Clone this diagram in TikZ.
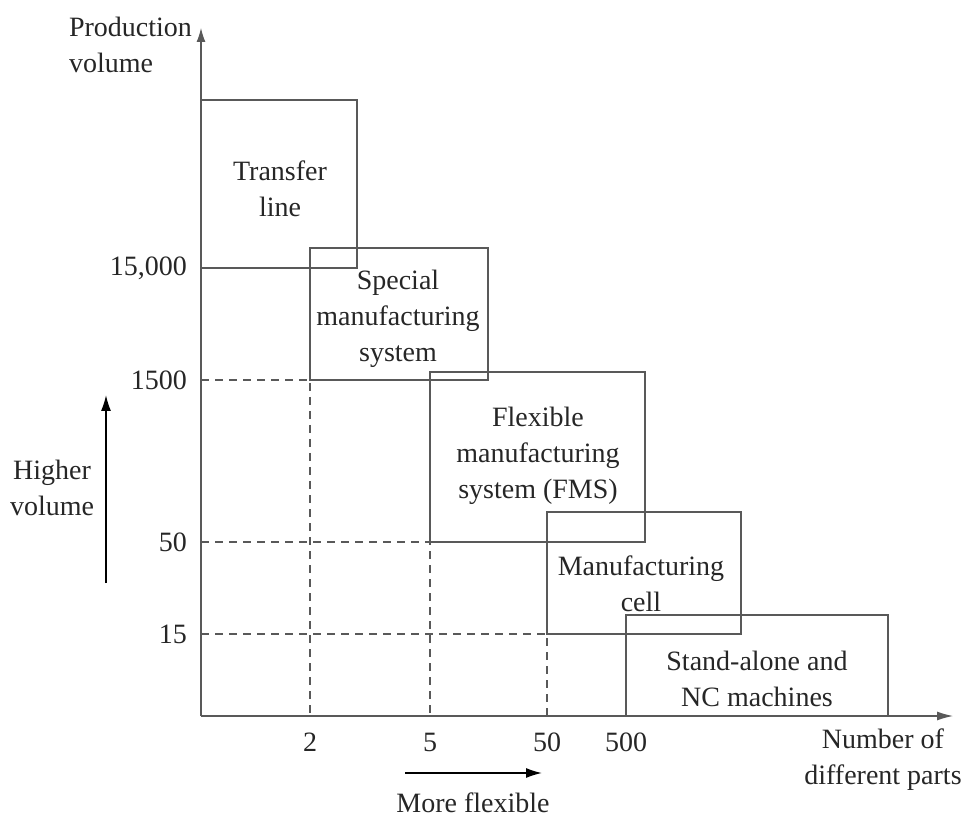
\documentclass[tikz,border=0pt]{standalone}
\usepackage{fontspec}
\setmainfont{Liberation Serif}
\usetikzlibrary{arrows.meta}
\newcommand\Ln{black!65}

\begin{document}
\begin{tikzpicture}[x=0.5pt, y=-0.5pt,
    every node/.style={font=\fontsize{14}{18}\selectfont, text=black!85},
    frame/.style={draw=\Ln, line width=0.6pt},
    guide/.style={draw=\Ln, line width=0.6pt, dash pattern=on 4pt off 3pt},
    boxtext/.style={align=center}]
  \useasboundingbox (0,0) rectangle (970,818);
  % axes
  \coordinate (o) at (201,716);
  \coordinate (ytop) at (201,28);
  \coordinate (xend) at (953,716);
  \draw[frame, -{Latex[length=7pt,width=4.5pt]}] (o) -- (ytop);
  \draw[frame, -{Latex[length=8pt,width=4.5pt]}] (o) -- (xend);
  % dashed guides
  \draw[guide] (201,380) -- (310,380) -- (310,716);
  \draw[guide] (201,542) -- (430,542) -- (430,716);
  \draw[guide] (201,634) -- (547,634) -- (547,716);
  % regions
  \draw[frame] (201,100) rectangle (357,268);
  \draw[frame] (310,248) rectangle (488,380);
  \draw[frame] (430,372) rectangle (645,542);
  \draw[frame] (547,512) rectangle (741,634);
  \draw[frame] (626,615) rectangle (888,716);
  \node[boxtext] (tl) at (280,189) {Transfer\\line};
  \node[boxtext] (sms) at (398,319) {Special\\manufacturing\\system};
  \node[boxtext] (fms) at (538,456) {Flexible\\manufacturing\\system (FMS)};
  \node[boxtext] (mc) at (641,584) {Manufacturing\\cell};
  \node[boxtext] (nc) at (757,679) {Stand-alone and\\NC machines};
  % tick labels
  \foreach \v/\y [count=\i] in {15{,}000/268, 1500/380, 50/542, 15/634}
    \node[anchor=east] (yl\i) at (194,\y) {\v};
  \foreach \v/\x in {2/310, 5/430, 50/547, 500/626}
    \node (xl\v) at (\x,742) {\v};
  % axis titles
  \node[anchor=north west, align=left] (ylab) at (62,10) {Production\\volume};
  \node[boxtext] (xlab) at (883,760) {Number of\\different parts};
  \node[boxtext] (hv) at (52,488) {Higher\\volume};
  \node (mf) at (473,803) {More flexible};
  \coordinate (hvlo) at (106,583);
  \coordinate (hvhi) at (106,395);
  \coordinate (mflo) at (405,773);
  \coordinate (mfhi) at (542,773);
  \draw[line width=0.7pt, -{Latex[length=8pt,width=5pt]}] (hvlo) -- (hvhi);
  \draw[line width=0.7pt, -{Latex[length=8pt,width=5pt]}] (mflo) -- (mfhi);
\end{tikzpicture}
\end{document}
